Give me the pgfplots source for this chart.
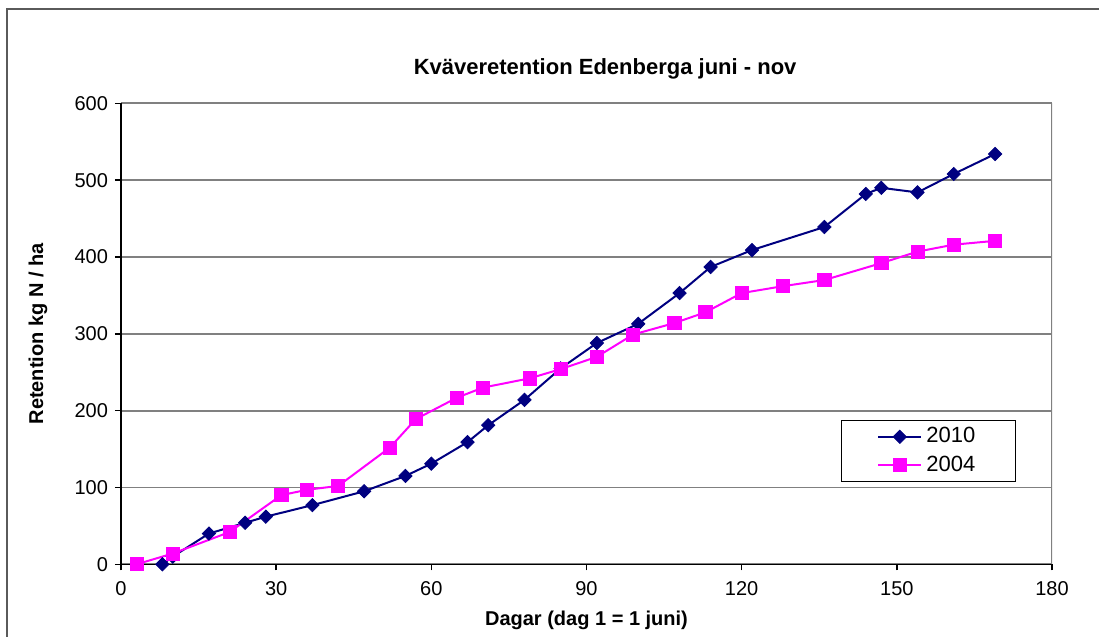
\documentclass[border=0pt]{standalone}
\usepackage{fontspec}
\setmainfont{Liberation Sans}
\usepackage{pgfplots}
\pgfplotsset{compat=1.18}
\definecolor{navyline}{RGB}{0,0,128}
\definecolor{magline}{RGB}{255,0,255}
\definecolor{gridgray}{RGB}{128,128,128}
\definecolor{framegray}{RGB}{90,90,90}

\pgfplotstableread{
x y
8 0
10 10
17 40
24 54
28 62
37 77
47 95
55 115
60 131
67 159
71 181
78 214
85 255
92 288
100 313
108 353
114 387
122 409
136 439
144 482
147 490
154 484
161 508
169 534
}\datatwentyten

\pgfplotstableread{
x y
3 0
10 14
21 42
31 90
36 97
42 102
52 152
57 189
65 217
70 230
79 242
85 254
92 270
99 299
107 314
113 328
120 353
128 362
136 370
147 392
154 407
161 416
169 421
}\datatwothousandfour

\begin{document}
\begin{tikzpicture}
\path[use as bounding box] (-60.5pt,-36.35pt) rectangle (489pt,282.15pt);
\draw[framegray, line width=1pt] (-57pt,-60pt) rectangle (520pt,277.65pt);
\begin{axis}[
  scale only axis,
  width=465.5pt, height=230.5pt,
  xmin=0, xmax=180, ymin=0, ymax=600,
  xtick={0,30,...,180}, ytick={0,100,...,600},
  axis lines=left,
  axis line style={-, black, line width=0.75pt},
  tick style={black, line width=0.75pt},
  tick align=outside,
  major tick length=3pt,
  ymajorgrids,
  grid style={gridgray, line width=0.9pt},
  ticklabel style={font=\fontsize{10}{12}\selectfont},
  /pgf/number format/assume math mode=true,
  xticklabel style={yshift=-2pt},
  title={Kväveretention Edenberga juni - nov},
  title style={font=\bfseries\fontsize{11}{13}\selectfont, at={(rel axis cs:0.52,1)}, anchor=center, yshift=11pt},
  xlabel={Dagar (dag 1 = 1 juni)},
  xlabel style={font=\bfseries\fontsize{10}{12}\selectfont, at={(rel axis cs:0.5,0)}, anchor=center, yshift=-28pt},
  ylabel={Retention kg N / ha},
  ylabel style={font=\bfseries\fontsize{10}{12}\selectfont, at={(rel axis cs:0,0.5)}, anchor=center, yshift=41.5pt},
  legend style={at={(rel axis cs:0.9613,0.313)}, anchor=north east, draw=black, line width=0.6pt,
    font=\fontsize{11}{13}\selectfont, inner xsep=18pt, inner ysep=1.5pt, row sep=1pt},
  legend cell align=left,
  legend image code/.code={\draw[mark repeat=2, mark phase=2] plot coordinates {(0cm,0cm) (0.38cm,0cm) (0.76cm,0cm)};},
]
\draw[gridgray, line width=0.9pt] (rel axis cs:1,0) -- (rel axis cs:1,1);
\addplot[navyline, line width=1pt, mark=square*, mark size=2.35pt, mark options={rotate=45, fill=navyline, line width=0.4pt}] table[x=x,y=y] {\datatwentyten};
\addlegendentry{2010}
\addplot[magline, line width=1pt, mark=square*, mark size=3.3pt, mark options={fill=magline, line width=0.4pt}] table[x=x,y=y] {\datatwothousandfour};
\addlegendentry{2004}
\end{axis}
\end{tikzpicture}
\end{document}
